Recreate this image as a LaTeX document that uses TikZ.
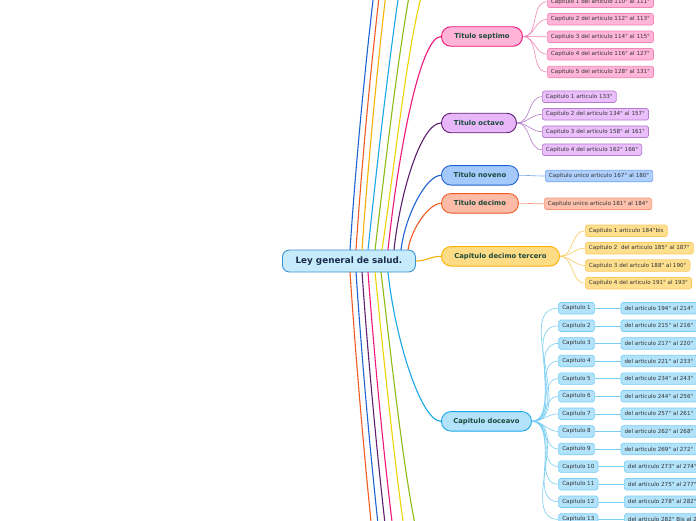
\documentclass[tikz,border=0pt]{standalone}
\usepackage{fontspec}
\setmainfont{DejaVu Sans}
\usetikzlibrary{positioning}
\definecolor{rootfill}{HTML}{C6EBFB}
\definecolor{rootline}{HTML}{3A92D2}
\definecolor{rootink}{HTML}{1B2C4E}
\definecolor{titleink}{HTML}{1C4A3C}
\definecolor{leafink}{HTML}{333333}
\definecolor{hotpink}{HTML}{F0167A}
\definecolor{plum}{HTML}{5E1F72}
\definecolor{royalblue}{HTML}{1F63D4}
\definecolor{tomato}{HTML}{F25A24}
\definecolor{amber}{HTML}{F9B200}
\definecolor{skyblue}{HTML}{1AA7E8}
\definecolor{limegreen}{HTML}{8DBB14}
\definecolor{lemon}{HTML}{F0D400}
\definecolor{pinkfill}{HTML}{FFB3D6}
\definecolor{pinkleaf}{HTML}{FFB5D8}
\definecolor{pinktwig}{HTML}{F386B8}
\definecolor{plumfill}{HTML}{E7B7F9}
\definecolor{plumleaf}{HTML}{EABFFB}
\definecolor{plumtwig}{HTML}{B47CCC}
\definecolor{bluefill}{HTML}{A6C9FC}
\definecolor{blueleaf}{HTML}{AFCFFD}
\definecolor{bluetwig}{HTML}{74A6F0}
\definecolor{tomatofill}{HTML}{FBBBA6}
\definecolor{tomatoleaf}{HTML}{FCC0AC}
\definecolor{tomatotwig}{HTML}{F69A7B}
\definecolor{amberfill}{HTML}{FEDC86}
\definecolor{amberleaf}{HTML}{FEDF8E}
\definecolor{ambertwig}{HTML}{FBCB5E}
\definecolor{skyfill}{HTML}{B3E3FB}
\definecolor{skyleaf}{HTML}{B2E3FB}
\definecolor{skytwig}{HTML}{78CEF4}
\tikzset{
  rootbox/.style={draw=rootline, fill=rootfill, line width=0.9pt, rounded corners=7pt, anchor=west, inner sep=0pt, minimum width=133pt, minimum height=22pt, font=\fontsize{8.8}{10}\selectfont\bfseries, text=rootink},
  titlebox/.style={line width=0.9pt, rounded corners=9.5pt, anchor=west, inner sep=0pt, minimum height=19.5pt, font=\fontsize{6.8}{8}\selectfont\bfseries, text=titleink},
  leafbox/.style={line width=0.7pt, rounded corners=1.8pt, anchor=west, inner xsep=3.6pt, inner ysep=0pt, minimum height=11.5pt, font=\fontsize{5.6}{6}\selectfont, text=leafink},
  branch/.style={line width=1.1pt},
  twig/.style={line width=0.6pt}
}
\begin{document}
\begin{tikzpicture}[x=1pt, y=1pt]
    \useasboundingbox (0,0) rectangle (696,-520);
    \clip (0,0) rectangle (696,-520);
    \fill[white] (0,0) rectangle (696,-520);

    % --- ROOT ---
    \node[rootbox] (root) at (282,-261) {Ley general de salud.};

    % --- TITLES ---
    \node[titlebox, draw=hotpink, fill=pinkfill, minimum width=81pt] (septimo) at (441,-36.5) {Titulo septimo};
    \node[titlebox, draw=plum, fill=plumfill, minimum width=75pt] (octavo) at (441,-123) {Titulo octavo};
    \node[titlebox, draw=royalblue, fill=bluefill, minimum width=77pt] (noveno) at (441,-175.3) {Titulo noveno};
    \node[titlebox, draw=tomato, fill=tomatofill, minimum width=77pt] (decimo) at (441,-203.3) {Titulo decimo};
    \node[titlebox, draw=amber, fill=amberfill, minimum width=118pt] (tercero) at (441,-256.3) {Capitulo decimo tercero};
    \node[titlebox, draw=skyblue, fill=skyfill, minimum width=90pt] (doceavo) at (441,-421.3) {Capitulo doceavo};

    % titles above and below the page
    \coordinate (up1) at (441,350);
    \coordinate (up2) at (441,320);
    \coordinate (up3) at (441,280);
    \coordinate (up4) at (441,170);
    \coordinate (up5) at (441,100);
    \coordinate (up6) at (441,40);
    \coordinate (dn1) at (441,-940);
    \coordinate (dn2) at (441,-870);
    \coordinate (dn3) at (441,-810);
    \coordinate (dn4) at (441,-750);
    \coordinate (dn5) at (441,-670);
    \coordinate (dn6) at (441,-590);

    % attach points on the root
    \coordinate (rt1) at (350,-250);
    \coordinate (rt2) at (356,-250);
    \coordinate (rt3) at (362,-250);
    \coordinate (rt4) at (368,-250);
    \coordinate (rt5) at (375,-250);
    \coordinate (rt6) at (382,-250);
    \coordinate (rt7) at (388,-250);
    \coordinate (rt8) at (394,-250);
    \coordinate (rt9) at (401,-250);
    \coordinate (rt10) at (408,-250);
    \coordinate (rb1) at (350,-272);
    \coordinate (rb2) at (356,-272);
    \coordinate (rb3) at (362,-272);
    \coordinate (rb4) at (368,-272);
    \coordinate (rb5) at (375,-272);
    \coordinate (rb6) at (381,-272);
    \coordinate (rb7) at (388,-272);

    % --- BRANCHES UP ---
    \draw[branch, royalblue] (rt1) .. controls +(18,270) and +(-25,0) .. (up1);
    \draw[branch, tomato] (rt2) .. controls +(17,256) and +(-25,0) .. (up2);
    \draw[branch, amber] (rt3) .. controls +(17,240) and +(-25,0) .. (up3);
    \draw[branch, skyblue] (rt4) .. controls +(20,190) and +(-25,0) .. (up4);
    \draw[branch, limegreen] (rt5) .. controls +(19,158) and +(-25,0) .. (up5);
    \draw[branch, lemon] (rt6) .. controls +(19,130) and +(-25,0) .. (up6);
    \draw[branch, hotpink] (rt7) .. controls +(10,96) and +(-21,0) .. (septimo.west);
    \draw[branch, plum] (rt8) .. controls +(6,57) and +(-20,0) .. (octavo.west);
    \draw[branch, royalblue] (rt9) .. controls +(4,34) and +(-15,0) .. (noveno.west);
    \draw[branch, tomato] (rt10) .. controls +(3,21) and +(-12,0) .. (decimo.west);
    \draw[branch, amber] (root.east) to[out=0, in=180] (tercero.west);

    % --- BRANCHES DOWN ---
    \draw[branch, tomato] (rb1) .. controls +(20,-300) and +(-25,0) .. (dn1);
    \draw[branch, royalblue] (rb2) .. controls +(18,-270) and +(-25,0) .. (dn2);
    \draw[branch, plum] (rb3) .. controls +(17,-242) and +(-25,0) .. (dn3);
    \draw[branch, hotpink] (rb4) .. controls +(16,-215) and +(-25,0) .. (dn4);
    \draw[branch, lemon] (rb5) .. controls +(18,-179) and +(-25,0) .. (dn5);
    \draw[branch, limegreen] (rb6) .. controls +(17,-143) and +(-25,0) .. (dn6);
    \draw[branch, skyblue] (rb7) .. controls +(7,-67) and +(-20,0) .. (doceavo.west);

    % --- LEAVES ---
    \foreach \yy/\txt [count=\i] in {1.8/Capitulo 1 del articulo 110° al 111°, 19.3/Capitulo 2 del articulo 112° al 113°, 36.8/Capitulo 3 del articulo 114° al 115°, 54.3/Capitulo 4 del articulo 116° al 127°, 72/Capitulo 5 del articulo 128° al 131°}{
      \node[leafbox, draw=pinktwig, fill=pinkleaf] (sept\i) at (547,-\yy) {\txt};
      \draw[twig, pinktwig] (septimo.east) to[out=0, in=180] (sept\i.west);
    }
    \foreach \yy/\txt [count=\i] in {96.7/Capitulo 1 articulo 133°, 114.3/Capitulo 2 del articulo 134° al 157°, 131.7/Capitulo 3 del articulo 158° al 161°, 149.7/Capitulo 4 del articulo 162° 166°}{
      \node[leafbox, draw=plumtwig, fill=plumleaf] (oct\i) at (542,-\yy) {\txt};
      \draw[twig, plumtwig] (octavo.east) to[out=0, in=180] (oct\i.west);
    }
    \node[leafbox, draw=bluetwig, fill=blueleaf] (nov1) at (545,-176) {Capitulo unico articulo 167° al 180°};
    \draw[twig, bluetwig] (noveno.east) to[out=0, in=180] (nov1.west);
    \node[leafbox, draw=tomatotwig, fill=tomatoleaf] (dec1) at (544,-203.8) {Capitulo unico articulo 181° al 184°};
    \draw[twig, tomatotwig] (decimo.east) to[out=0, in=180] (dec1.west);
    \foreach \yy/\txt [count=\i] in {230.8/Capitulo 1 articulo 184°bis, 248.2/Capitulo 2 \ del articulo 185° al 187°, 265.5/Capitulo 3 del artculo 188° al 190°, 283.2/Capitulo 4 del articulo 191° al 193°}{
      \node[leafbox, draw=ambertwig, fill=amberleaf] (ter\i) at (585,-\yy) {\txt};
      \draw[twig, ambertwig] (tercero.east) to[out=0, in=180] (ter\i.west);
    }
    \foreach \a/\b/\xx [count=\n] in {194°/214°/620.7, 215°/216°/620.7, 217°/220°/620.7, 221°/233°/620.7, 234°/243°/620.7, 244°/256°/620.7, 257°/261°/620.7, 262°/268°/620.7, 269°/272°/620.7, 273°/274°/624, 275°/277°/624, 278°/282°/624, 282° Bis/282° Bis 2/624}{
      \pgfmathsetmacro{\yy}{-308.2-(\n-1)*17.6}
      \node[leafbox, draw=skytwig, fill=skyleaf] (cap\n) at (558.3,\yy) {Capitulo \n};
      \node[leafbox, draw=skytwig, fill=skyleaf] (art\n) at (\xx,\yy) {del articulo \a{} al \b};
      \draw[twig, skytwig] (doceavo.east) to[out=0, in=180] (cap\n.west);
      \draw[twig, skytwig] (cap\n.east) -- (art\n.west);
    }
\end{tikzpicture}
\end{document}
